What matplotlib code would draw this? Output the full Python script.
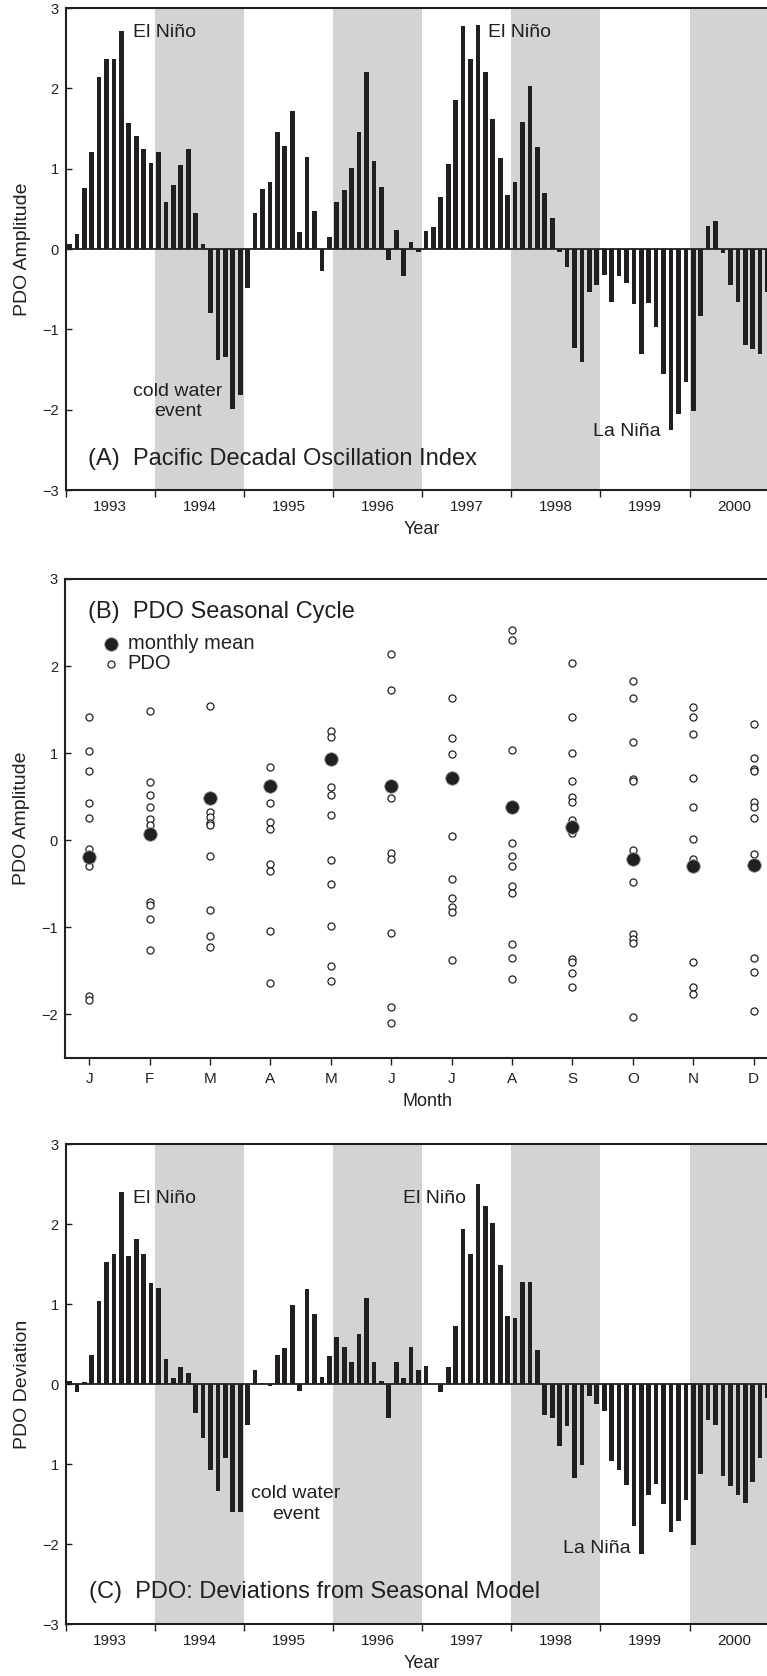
import numpy as np
import matplotlib.pyplot as plt

plt.rcParams['font.family'] = ['Liberation Sans', 'DejaVu Sans']

INK = '#231f20'
SHADE = '#d1d3d4'

years = ['1993', '1994', '1995', '1996', '1997', '1998', '1999', '2000']
shaded_years = ['1994', '1996', '1998', '2000']

# (A) monthly PDO index, Jan 1993 - Nov 2000
pdo = [
    0.06, 0.19, 0.76, 1.21, 2.14, 2.36, 2.36, 2.71, 1.57, 1.41, 1.24, 1.07,
    1.21, 0.59, 0.80, 1.04, 1.24, 0.45, 0.06, -0.80, -1.38, -1.34, -1.99, -1.82,
    -0.49, 0.45, 0.75, 0.83, 1.46, 1.28, 1.72, 0.21, 1.15, 0.47, -0.28, 0.15,
    0.59, 0.74, 1.01, 1.46, 2.20, 1.10, 0.77, -0.14, 0.24, -0.33, 0.09, -0.04,
    0.22, 0.28, 0.65, 1.06, 1.85, 2.78, 2.37, 2.79, 2.20, 1.62, 1.13, 0.67,
    0.83, 1.58, 2.03, 1.27, 0.70, 0.39, -0.04, -0.22, -1.23, -1.41, -0.53, -0.45,
    -0.32, -0.66, -0.33, -0.42, -0.69, -1.31, -0.67, -0.97, -1.55, -2.25, -2.06, -1.65,
    -2.02, -0.83, 0.29, 0.35, -0.05, -0.45, -0.66, -1.20, -1.25, -1.31, -0.54,
]

# (C) deviations from the seasonal model
deviation = [
    0.04, -0.10, 0.02, 0.36, 1.04, 1.53, 1.63, 2.40, 1.60, 1.81, 1.62, 1.26,
    1.20, 0.31, 0.07, 0.21, 0.14, -0.36, -0.67, -1.08, -1.34, -0.93, -1.60, -1.60,
    -0.51, 0.18, 0.01, -0.03, 0.36, 0.45, 0.99, -0.09, 1.19, 0.87, 0.09, 0.35,
    0.59, 0.46, 0.28, 0.62, 1.08, 0.28, 0.04, -0.43, 0.28, 0.07, 0.46, 0.17,
    0.22, 0.00, -0.10, 0.21, 0.73, 1.94, 1.63, 2.50, 2.22, 2.01, 1.49, 0.85,
    0.83, 1.27, 1.27, 0.42, -0.39, -0.42, -0.77, -0.52, -1.18, -1.01, -0.15, -0.25,
    -0.34, -0.96, -1.07, -1.26, -1.78, -2.12, -1.39, -1.25, -1.50, -1.85, -1.71, -1.45,
    -2.01, -1.12, -0.45, -0.51, -1.15, -1.27, -1.39, -1.49, -1.23, -0.92, -0.18,
]

# (B) seasonal cycle
month_labels = ['J', 'F', 'M', 'A', 'M', 'J', 'J', 'A', 'S', 'O', 'N', 'D']
monthly_pdo = [
    [1.41, 1.03, 0.79, 0.43, 0.25, -0.10, -0.19, -0.29, -1.79, -1.83],
    [1.49, 0.67, 0.52, 0.38, 0.24, 0.18, 0.07, -0.71, -0.74, -0.90, -1.26],
    [1.54, 0.51, 0.33, 0.27, 0.20, 0.18, -0.18, -0.80, -1.10, -1.22],
    [0.84, 0.62, 0.43, 0.21, 0.13, -0.27, -0.35, -1.04, -1.64],
    [1.25, 1.19, 0.93, 0.61, 0.52, 0.29, -0.23, -0.50, -0.98, -1.44, -1.62],
    [2.14, 1.72, 0.62, 0.48, -0.15, -0.21, -1.06, -1.92, -2.10],
    [1.63, 1.18, 0.99, 0.72, 0.05, -0.45, -0.66, -0.77, -0.82, -1.38],
    [2.41, 2.30, 1.04, 0.38, -0.03, -0.18, -0.29, -0.53, -0.61, -1.19, -1.35, -1.59],
    [2.04, 1.41, 1.00, 0.68, 0.50, 0.44, 0.23, 0.15, 0.08, -1.36, -1.40, -1.52, -1.69],
    [1.83, 1.63, 1.13, 0.70, 0.68, -0.11, -0.22, -0.48, -1.08, -1.13, -1.18, -2.03],
    [1.53, 1.41, 1.22, 0.71, 0.38, 0.01, -0.22, -0.29, -1.40, -1.69, -1.76],
    [1.34, 0.94, 0.82, 0.80, 0.44, 0.38, 0.25, -0.16, -0.28, -1.35, -1.51, -1.96],
]
monthly_mean = [-0.19, 0.07, 0.48, 0.62, 0.93, 0.62, 0.72, 0.38, 0.15, -0.22, -0.29, -0.28]

W, H = 767, 1676
fig = plt.figure(figsize=(W / 100, H / 100), dpi=100)


def frame(top, bottom, left, width):
    return fig.add_axes([left / W, 1 - bottom / H, width / W, (bottom - top) / H])


def style(ax, ylabel):
    for side in ['left', 'top', 'bottom', 'right']:
        ax.spines[side].set_linewidth(1.5)
        ax.spines[side].set_color(INK)
    ax.tick_params(axis='y', direction='in', length=4, width=1, colors=INK,
                   labelsize=10.5, pad=5)
    ax.set_ylabel(ylabel, fontsize=14, color=INK, labelpad=8)


def year_panel(ax, values, ylabel, ticklabels=None):
    n_months = 12 * len(years)
    for y in shaded_years:
        start = 12 * years.index(y)
        ax.axvspan(start, start + 12, color=SHADE, lw=0, zorder=0)
    x = np.arange(len(values)) + 0.5
    ax.bar(x, values, width=0.63, color=INK, zorder=2)
    ax.axhline(0, color=INK, lw=1.3, zorder=3)
    ax.set_xlim(0, n_months)
    ax.set_ylim(-3, 3)
    ax.set_yticks(range(-3, 4))
    if ticklabels is not None:
        ax.set_yticklabels(ticklabels)
    ax.set_xticks(np.arange(0, n_months + 1, 12))
    ax.set_xticklabels([])
    ax.set_xticks(np.arange(6, n_months, 12), minor=True)
    ax.set_xticklabels(years, minor=True)
    ax.tick_params(axis='x', which='major', direction='out', length=5, width=1,
                   colors=INK)
    ax.tick_params(axis='x', which='minor', length=0, labelsize=11, pad=7,
                   labelcolor=INK)
    ax.set_xlabel('Year', fontsize=13, color=INK, labelpad=5)
    style(ax, ylabel)


# (A)
axA = frame(8, 490, 65.7, 713)
year_panel(axA, pdo, 'PDO Amplitude')
axA.text(9.1, 2.70, 'El Niño', fontsize=14, color=INK, va='center')
axA.text(56.8, 2.70, 'El Niño', fontsize=14, color=INK, va='center')
axA.text(15.1, -1.90, 'cold water\nevent', fontsize=14, color=INK,
         ha='center', va='center', multialignment='center', linespacing=1.25)
axA.text(71.0, -2.27, 'La Niña', fontsize=14, color=INK, va='center')
axA.text(3.0, -2.62, '(A)  Pacific Decadal Oscillation Index', fontsize=17,
         color=INK, va='center')

# (B)
axB = frame(579, 1058, 65, 725)
months = np.arange(1, 13)
for m, vals in zip(months, monthly_pdo):
    axB.scatter(np.full(len(vals), m), vals, s=26, facecolor='white',
                edgecolor=INK, linewidth=0.9, zorder=2,
                label='PDO' if m == 1 else None)
axB.scatter(months, monthly_mean, s=95, color=INK, edgecolor='#9a9a9a',
            linewidth=0.6, zorder=3, label='monthly mean')
axB.set_xlim(0.6, 12.6)
axB.set_ylim(-2.5, 3)
axB.set_yticks(range(-2, 4))
axB.set_xticks(months)
axB.set_xticklabels(month_labels)
axB.tick_params(axis='x', direction='out', length=5, width=1, colors=INK,
                labelsize=11, pad=5)
axB.set_xlabel('Month', fontsize=13, color=INK, labelpad=5)
style(axB, 'PDO Amplitude')
handles, labels = axB.get_legend_handles_labels()
axB.legend(handles[::-1], labels[::-1], loc='upper left',
           bbox_to_anchor=(0.053, 0.885), frameon=False, fontsize=14.5,
           handlelength=0.8, handletextpad=0.4, labelspacing=0.05,
           borderpad=0, borderaxespad=0, labelcolor=INK)
axB.text(0.98, 2.62, '(B)  PDO Seasonal Cycle', fontsize=17, color=INK,
         va='center')

# (C)
axC = frame(1144, 1624, 65.7, 713)
year_panel(axC, deviation, 'PDO Deviation',
           ticklabels=['\u22123', '\u22122', '1', '0', '1', '2', '3'])
axC.text(9.1, 2.32, 'El Niño', fontsize=14, color=INK, va='center')
axC.text(45.4, 2.32, 'El Niño', fontsize=14, color=INK, va='center')
axC.text(31.0, -1.50, 'cold water\nevent', fontsize=14, color=INK,
         ha='center', va='center', multialignment='center', linespacing=1.25)
axC.text(67.0, -2.06, 'La Niña', fontsize=14, color=INK, va='center')
axC.text(3.1, -2.60, '(C)  PDO: Deviations from Seasonal Model', fontsize=17,
         color=INK, va='center')

fig.savefig('out.png', dpi=100)
